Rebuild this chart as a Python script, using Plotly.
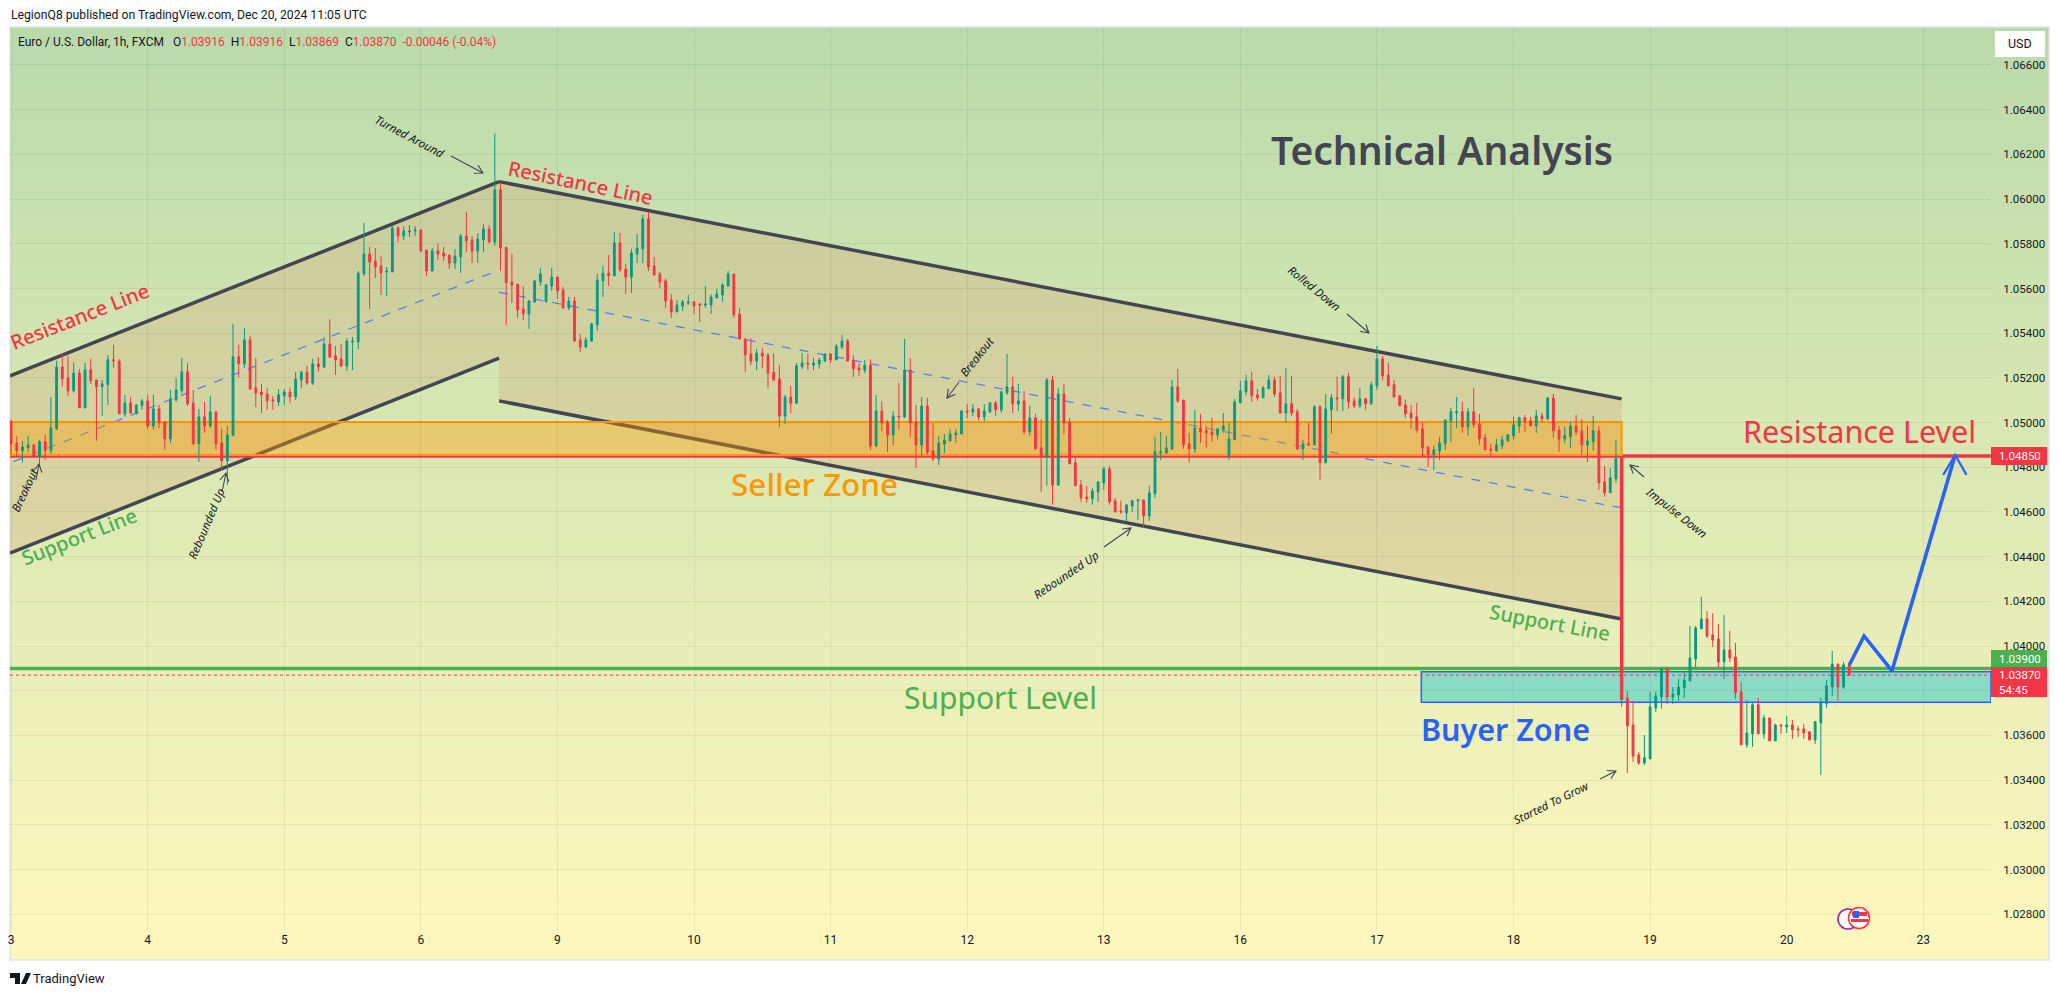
import plotly.graph_objects as go

# ---- hourly candles, prices in 1e-5 units (105370 = 1.05370) ----
candle_dir = ("RRGGRGRGGR" "RGRGRRGGRR" "GRGGRGRRGG" "GRRGRGRRGG" "RGRRRRRGGR"
              "GGRGRGRRRG" "GGGRRRGGRG" "GGRRGRRRGG" "RRGGRGRRRR" "RGGGGGRRGR"
              "RGGGGRGRRG" "GGRRRRRGGG" "RRGGGGGRRR" "RGRRRRGRGG" "RGGGRGGRRR"
              "GRGRRGRGRR" "GRRGGGGGRG" "RGGRGGRGRG" "RRGRGRRRRR" "GGGRRRGGGR"
              "GGGGGRRRGR" "RRGGGGGGRR" "GGRRGRRGRG" "RGGRGRRGRG" "GRRRRRRRRR"
              "GGGGGRGRRR" "RGGGGGRRGR" "GRRGGRRGGR" "RGGRRRRGGG" "GRGGGGGGRR"
              "RGRRRGGRGR" "GRGRRRRGGG" "GRGR")

candle_high = [
105012,104938,104918,104941,104905,104923,104945,105115,105276,105307,
105298,105269,105240,105267,105285,105191,105191,105303,105348,105285,
105124,105115,105084,105106,105124,105124,105079,105005,105146,105200,
105289,105267,105146,105061,105093,105120,105048,104972,104985,105442,
105348,105423,105387,105289,105173,105155,105119,105150,105150,105155,
105226,105231,105253,105285,105293,105383,105463,105343,105352,105378,
105383,105678,105893,105786,105781,105745,105696,105884,105879,105879,
105884,105879,105862,105772,105781,105803,105786,105750,105777,105844,
105942,105835,105848,105888,105884,106294,106070,105784,105754,105620,
105611,105549,105638,105692,105620,105692,105656,105607,105562,105562,
105397,105383,105446,105665,105701,105750,105853,105848,105710,105777,
105844,105929,105942,105741,105674,105643,105575,105549,105549,105571,
105544,105535,105611,105575,105598,105625,105678,105665,105513,105378,
105378,105329,105333,105311,105311,105257,105123,105164,105266,105311,
105307,105289,105289,105311,105311,105351,105392,105374,105302,105266,
105280,105284,105123,105096,105011,105052,105177,105374,105289,105079,
105114,105110,104998,104940,104949,104971,104971,105056,105083,105083,
105065,105083,105092,105097,105142,105307,105204,105173,105142,105075,
105039,105016,105200,105209,105155,105173,105021,104851,104744,104717,
104708,104735,104802,104806,104663,104650,104632,104654,104659,104654,
104717,104936,104958,104940,105191,105240,105101,104954,105057,105039,
104985,105021,104976,105043,104999,105106,105187,105213,105227,105151,
105164,105213,105205,105209,105245,105209,105061,104923,104999,105079,
105079,105128,105128,105205,105213,105222,105111,105155,105111,105182,
105343,105298,105267,105191,105120,105102,105079,105088,105003,104891,
104896,104936,105012,105066,105115,105093,105066,105155,105039,104949,
104905,104927,104941,104949,105026,105026,105034,105026,105057,105043,
105115,105128,104985,104981,105003,105034,105017,104985,105030,104985,
104806,104797,104923,104810,103799,103755,103526,103602,103795,103795,
103902,103907,103817,103853,103880,104090,104090,104220,104157,104148,
104099,104139,104068,104014,103839,103759,103750,103768,103692,103678,
103652,103652,103687,103670,103643,103652,103620,103665,103768,103848,
103978,103920,103929,103916]

body_top = [
105005,104909,104891,104900,104900,104914,104914,104976,105249,105249,
105200,105222,105222,105236,105236,105191,105173,105281,105281,105276,
105088,105088,105079,105097,105097,105061,105061,105003,105106,105146,
105227,105227,105088,105026,105026,105048,105048,104909,104945,105294,
105294,105370,105370,105155,105137,105128,105101,105124,105137,105137,
105195,105226,105226,105262,105262,105352,105352,105298,105285,105365,
105365,105669,105754,105754,105723,105701,105678,105870,105870,105857,
105857,105862,105862,105772,105768,105768,105759,105750,105745,105835,
105835,105817,105821,105866,105866,106041,106041,105784,105629,105620,
105508,105544,105634,105665,105616,105651,105651,105593,105544,105544,
105370,105370,105441,105638,105669,105669,105804,105804,105687,105759,
105781,105911,105911,105701,105665,105634,105549,105526,105540,105540,
105540,105531,105531,105562,105575,105616,105665,105665,105486,105374,
105307,105311,105311,105302,105226,105195,105114,105114,105253,105266,
105266,105266,105280,105307,105307,105342,105365,105365,105280,105244,
105257,105257,105052,105052,105002,105029,105029,105235,105235,105002,
105074,105074,104873,104909,104922,104949,104953,105052,105052,105061,
105061,105052,105088,105088,105137,105160,105160,105097,105097,105021,
105021,104887,105191,105191,105128,105128,105003,104820,104721,104667,
104694,104735,104793,104793,104650,104605,104632,104650,104654,104654,
104685,104869,104869,104887,105160,105160,105101,104905,104976,104976,
104963,104958,104972,104985,104927,105093,105142,105187,105187,105124,
105155,105191,105191,105133,105084,105084,105048,104905,104905,105070,
105070,105061,105111,105111,105205,105205,105097,105106,105106,105169,
105285,105285,105213,105169,105120,105079,105043,105026,104972,104891,
104878,104909,105012,105048,105048,105048,105048,105048,104994,104932,
104882,104900,104923,104945,104990,105021,105021,105008,105030,105030,
105110,105110,104967,104941,104985,104985,104963,104918,104963,104963,
104735,104753,104838,104790,103768,103647,103513,103500,103728,103777,
103898,103898,103786,103817,103848,103947,104081,104121,104121,104050,
104032,103983,103983,103951,103795,103611,103737,103737,103678,103678,
103647,103647,103647,103647,103629,103629,103616,103661,103750,103822,
103920,103920,103916,103916]

body_bottom = [
104905,104874,104874,104888,104847,104847,104874,104874,104972,105196,
105142,105142,105066,105066,105187,105160,105160,105169,105276,105039,
105039,105043,105043,105075,104985,104985,104999,104927,104927,105102,
105142,105084,104905,104905,104985,104985,104905,104829,104829,104941,
105263,105262,105150,105132,105124,105097,105097,105092,105119,105115,
105115,105191,105177,105177,105249,105249,105293,105280,105253,105253,
105361,105361,105665,105718,105696,105669,105674,105674,105835,105835,
105853,105857,105768,105678,105678,105754,105745,105714,105714,105741,
105812,105768,105768,105817,105808,105808,105781,105625,105616,105504,
105486,105486,105540,105629,105540,105611,105589,105513,105513,105365,
105338,105338,105365,105437,105634,105656,105656,105683,105651,105651,
105754,105777,105696,105660,105629,105544,105495,105495,105522,105535,
105522,105526,105526,105526,105558,105571,105611,105482,105374,105302,
105275,105275,105298,105222,105190,105029,105029,105087,105087,105249,
105262,105257,105262,105275,105280,105280,105338,105275,105240,105235,
105235,104895,104895,104998,104944,104944,105025,105025,104998,104900,
104900,104868,104837,104837,104904,104918,104944,104949,105047,105047,
105025,105025,105048,105057,105057,105133,105083,105083,104958,104958,
104882,104846,104846,104721,104721,104998,104815,104717,104663,104659,
104659,104690,104730,104645,104600,104600,104596,104627,104650,104582,
104582,104681,104864,104864,104882,105097,104900,104882,104882,104958,
104954,104945,104945,104967,104851,104923,105088,105137,105120,105111,
105111,105151,105128,105043,105043,105043,104882,104882,104900,104900,
104820,104820,105057,105106,105106,105093,105075,105075,105084,105084,
105164,105209,105164,105115,105075,105039,105021,104967,104887,104856,
104856,104873,104905,105008,105043,104981,104981,104990,104927,104878,
104878,104873,104896,104918,104941,104985,105003,104985,104985,105017,
105017,104963,104927,104927,104936,104958,104900,104900,104914,104730,
104686,104686,104748,103763,103643,103508,103477,103477,103495,103723,
103772,103772,103772,103781,103813,103844,103942,104077,104045,104027,
103929,103929,103947,103790,103558,103558,103607,103607,103607,103576,
103576,103643,103638,103625,103625,103611,103580,103580,103656,103743,
103817,103817,103817,103870]

candle_low = [
104856,104845,104821,104866,104845,104803,104833,104860,104967,105160,
105120,105134,105066,105063,105173,104918,105030,105079,105245,105039,
105026,105039,105035,105057,104972,104969,104976,104878,104909,105093,
105131,105075,104900,104824,104954,104976,104878,104789,104721,104940,
105203,105244,105146,105070,105043,105056,105056,105074,105079,105088,
105101,105155,105168,105168,105226,105244,105289,105213,105249,105231,
105235,105329,105656,105508,105647,105571,105566,105674,105808,105817,
105830,105835,105763,105656,105678,105727,105723,105687,105687,105669,
105763,105714,105714,105763,105803,105790,105680,105437,105535,105468,
105459,105419,105535,105611,105540,105589,105553,105508,105504,105361,
105316,105334,105361,105410,105562,105611,105656,105674,105575,105580,
105714,105714,105678,105660,105602,105513,105468,105495,105499,105526,
105486,105450,105513,105486,105558,105540,105607,105468,105370,105226,
105257,105235,105244,105155,105190,104980,104994,105043,105083,105240,
105235,105235,105240,105271,105266,105280,105329,105275,105204,105208,
105222,104877,104891,104962,104868,104900,104971,105020,104935,104797,
104850,104855,104828,104810,104864,104918,104909,104949,105020,105029,
105011,105007,105043,105030,105043,105124,105043,105052,104949,104940,
104882,104690,104717,104632,104717,104949,104815,104717,104645,104641,
104632,104645,104699,104632,104600,104591,104560,104600,104565,104529,
104560,104663,104833,104860,104878,105088,104882,104820,104864,104909,
104887,104914,104923,104954,104833,104923,105088,105120,105093,105097,
105111,105151,105115,105039,104999,105030,104878,104833,104896,104900,
104744,104820,104950,105052,105052,105061,105066,105066,105057,105079,
105146,105187,105164,105111,105075,105021,104972,104954,104847,104802,
104788,104833,104878,104914,104976,104954,104941,104976,104900,104878,
104851,104869,104882,104914,104923,104954,104958,104985,104954,104999,
105012,104932,104869,104909,104887,104945,104856,104824,104873,104699,
104668,104686,104730,103728,103432,103482,103468,103468,103495,103705,
103719,103741,103741,103755,103768,103844,103902,104077,104036,103996,
103902,103853,103929,103763,103558,103544,103549,103607,103585,103576,
103576,103607,103611,103585,103593,103585,103580,103562,103424,103723,
103777,103755,103808,103869]

n_bars = len(candle_high)
if not (n_bars == len(body_top) == len(body_bottom) == len(candle_low) == len(candle_dir)):
    raise SystemExit(f"len {n_bars} {len(body_top)} {len(body_bottom)} {len(candle_low)} {len(candle_dir)}")

# ---- axes ----
day_tick_pos = [0, 24, 48, 72, 96, 120, 144, 168, 192, 216, 240, 264, 288, 312, 336]
day_tick_text = ["3", "4", "5", "6", "9", "10", "11", "12", "13", "16", "17", "18", "19", "20", "23"]
price_ticks = [1.028, 1.030, 1.032, 1.034, 1.036, 1.038, 1.040, 1.042, 1.044, 1.046,
               1.048, 1.050, 1.052, 1.054, 1.056, 1.058, 1.060, 1.062, 1.064, 1.066]
# the 1.03800 label sits behind the live-price tag in the reference, so it is left blank
price_tick_text = ["1.02800", "1.03000", "1.03200", "1.03400", "1.03600", "", "1.04000", "1.04200",
                   "1.04400", "1.04600", "1.04800", "1.05000", "1.05200", "1.05400", "1.05600",
                   "1.05800", "1.06000", "1.06200", "1.06400", "1.06600"]
X_RANGE = [-0.19, 347.9]
Y_RANGE = [1.02725, 1.0677]

# ---- drawn levels and channels (bar index, price) ----
rise_x = [-0.19, 85.75]
rise_upper = [1.05209, 1.06078]
rise_lower = [1.04416, 1.05288]
rise_mid_x = [0.4, 85.75]
rise_mid = [1.04825, 1.05683]
fall_x = [85.75, 283]
fall_upper = [1.06078, 1.05106]
fall_lower = [1.05097, 1.04121]
fall_mid = [1.05583, 1.04618]
seller_zone = [1.04855, 1.05003]
buyer_zone = [1.03749, 1.03885]
buyer_zone_start = 247.8
resistance_level = 1.0485
support_level = 1.0390
last_price = 1.0387
impulse_x = 283
impulse_bottom = 1.0376
forecast_x = [323, 325.6, 330.5, 341.6]
forecast_y = [1.03915, 1.04045, 1.03889, 1.04855]
forecast_head_x = [339.5, 341.6, 343.6]
forecast_head_y = [1.04766, 1.04855, 1.04766]

# ---- colours ----
UP = "#089981"
DOWN = "#F23645"
GREEN = "#4CAF50"
ORANGE = "#FF9800"
BLUE = "#2962FF"
INK = "#434651"
DARK = "#131722"
TOP_RGB = (187, 218, 172)
BOTTOM_RGB = (255, 248, 190)

L, R, T, B = 10, 1991, 27, 931
W, H = 2059, 995
PANEL_R, PANEL_B = 2049, 960


def px(x):
    return (x - L) / (R - L)


def py(y):
    return (B - y) / (B - T)


open_ = [(b if d == "G" else t) / 1e5 for d, t, b in zip(candle_dir, body_top, body_bottom)]
close = [(t if d == "G" else b) / 1e5 for d, t, b in zip(candle_dir, body_top, body_bottom)]
high = [max(h, t) / 1e5 for h, t in zip(candle_high, body_top)]
low = [min(l, b) / 1e5 for l, b in zip(candle_low, body_bottom)]

fig = go.Figure()
fig.add_trace(go.Candlestick(
    x=list(range(n_bars)), open=open_, high=high, low=low, close=close,
    increasing=dict(line=dict(color=UP, width=1), fillcolor=UP),
    decreasing=dict(line=dict(color=DOWN, width=1), fillcolor=DOWN),
    whiskerwidth=0, showlegend=False, hoverinfo="skip"))
fig.add_trace(go.Scatter(x=forecast_x, y=forecast_y, mode="lines",
                         line=dict(color=BLUE, width=3.6), showlegend=False, hoverinfo="skip"))
fig.add_trace(go.Scatter(x=forecast_head_x, y=forecast_head_y, mode="lines",
                         line=dict(color=BLUE, width=2.2), showlegend=False, hoverinfo="skip"))

shapes = []
# background gradient (painted top-down so no seams appear)
STEPS = 110
for k in range(STEPS):
    f = k / (STEPS - 1)
    col = tuple(round(a + (b - a) * f) for a, b in zip(TOP_RGB, BOTTOM_RGB))
    y0 = T + (PANEL_B - T) * k / STEPS
    shapes.append(dict(type="rect", xref="paper", yref="paper", layer="below",
                       x0=px(L), x1=px(PANEL_R), y0=py(y0), y1=py(PANEL_B),
                       fillcolor=f"rgb{col}", line=dict(width=0)))
shapes.append(dict(type="rect", xref="paper", yref="paper", layer="below",
                   x0=px(L), x1=px(PANEL_R), y0=py(T), y1=py(PANEL_B),
                   fillcolor="rgba(0,0,0,0)", line=dict(color="#E0E3EB", width=1.5)))


def segment(x0, y0, x1, y1, color, width, dash="solid"):
    return dict(type="line", xref="x", yref="y", layer="below", x0=x0, y0=y0, x1=x1, y1=y1,
                line=dict(color=color, width=width, dash=dash))


def band(xs, up, lo):
    path = f"M{xs[0]},{up[0]} L{xs[1]},{up[1]} L{xs[1]},{lo[1]} L{xs[0]},{lo[0]} Z"
    return dict(type="path", xref="x", yref="y", layer="below", path=path,
                fillcolor="rgba(206,151,109,0.25)", line=dict(width=0))


shapes += [band(rise_x, rise_upper, rise_lower), band(fall_x, fall_upper, fall_lower)]
shapes += [
    segment(rise_x[0], rise_upper[0], rise_x[1], rise_upper[1], INK, 3.5),
    segment(rise_x[0], rise_lower[0], rise_x[1], rise_lower[1], INK, 3.5),
    segment(fall_x[0], fall_upper[0], fall_x[1], fall_upper[1], INK, 3.5),
    segment(fall_x[0], fall_lower[0], fall_x[1], fall_lower[1], INK, 3.5),
    segment(rise_mid_x[0], rise_mid[0], rise_mid_x[1], rise_mid[1], "#5B7FF0", 1.3, "dash"),
    segment(fall_x[0], fall_mid[0], fall_x[1], fall_mid[1], "#5B7FF0", 1.3, "dash"),
    segment(X_RANGE[0], resistance_level, X_RANGE[1], resistance_level, DOWN, 3.5),
    dict(type="rect", xref="x", yref="y", layer="below", x0=X_RANGE[0], x1=impulse_x,
         y0=seller_zone[0], y1=seller_zone[1], fillcolor="rgba(255,152,0,0.38)",
         line=dict(color=ORANGE, width=2)),
    segment(impulse_x, resistance_level, impulse_x, impulse_bottom, DOWN, 3.5),
    dict(type="rect", xref="x", yref="y", layer="below", x0=buyer_zone_start, x1=X_RANGE[1],
         y0=buyer_zone[0], y1=buyer_zone[1], fillcolor="rgba(30,197,210,0.47)",
         line=dict(color=BLUE, width=1.5)),
    segment(X_RANGE[0], support_level, X_RANGE[1], support_level, GREEN, 3.5),
    segment(X_RANGE[0], last_price, X_RANGE[1], last_price, DOWN, 1, "dot"),
]


def arrow(x0, y0, x1, y1):
    # thin open-headed arrow, drawn in page pixels
    dx, dy = x1 - x0, y1 - y0
    n = (dx * dx + dy * dy) ** 0.5
    ux, uy = dx / n, dy / n
    s, w = 8, 4.5
    a = (x1 - ux * s - uy * w, y1 - uy * s + ux * w)
    b = (x1 - ux * s + uy * w, y1 - uy * s - ux * w)
    p = (f"M{px(x0)},{py(y0)} L{px(x1)},{py(y1)} M{px(a[0])},{py(a[1])} "
         f"L{px(x1)},{py(y1)} L{px(b[0])},{py(b[1])}")
    return dict(type="path", xref="paper", yref="paper", layer="above", path=p,
                line=dict(color=INK, width=1.1))


shapes += [arrow(451, 156, 483, 173), arrow(36, 480, 39, 464), arrow(222, 492, 226, 473),
           arrow(959, 382, 947, 398), arrow(1104, 547, 1131, 528), arrow(1347, 314, 1369, 333),
           arrow(1644, 477, 1630, 465), arrow(1600, 779, 1616, 771)]


def box(x0, y0, x1, y1, color):
    return dict(type="rect", xref="paper", yref="paper", layer="above",
                x0=px(x0), x1=px(x1), y0=py(y0), y1=py(y1), fillcolor=color, line=dict(width=0))


def disc(cx, cy, r, fill, edge, lw=1.6):
    return dict(type="circle", xref="paper", yref="paper", layer="above",
                x0=px(cx - r), x1=px(cx + r), y0=py(cy - r), y1=py(cy + r),
                fillcolor=fill, line=dict(color=edge, width=lw))


shapes += [
    box(1995, 31, 2045, 57, "#FFFFFF"),
    box(1991, 447, 2047, 465, DOWN),
    box(1991, 650, 2047, 667, GREEN),
    box(1991, 667, 2047, 697, DOWN),
    disc(1848, 919, 10, "#FFFFFF", "#9C27B0"),
    disc(1859, 918, 10.5, "#FFFFFF", DOWN),
    box(1852, 912, 1867, 916, DOWN),
    box(1851, 919, 1868, 922, DOWN),
    box(1853, 911, 1859, 918, "#2962FF"),
    # TradingView mark
    dict(type="path", xref="paper", yref="paper", layer="above",
         path=(f"M{px(10)},{py(973)} L{px(20)},{py(973)} L{px(20)},{py(984)} L{px(15)},{py(984)} "
               f"L{px(15)},{py(978)} L{px(10)},{py(978)} Z "
               f"M{px(26)},{py(973)} L{px(31)},{py(973)} L{px(26)},{py(984)} L{px(21)},{py(984)} Z"),
         fillcolor=DARK, line=dict(width=0)),
]

annotations = []


def note(text, x, y, size, color, angle=0, family="Noto Sans", anchor="center", **font):
    annotations.append(dict(text=text, xref="paper", yref="paper", x=px(x), y=py(y),
                            xanchor=anchor, yanchor="middle", showarrow=False, textangle=angle,
                            font=dict(family=family, size=size, color=color, **font)))


sp = "\u00a0"
note("LegionQ8 published on TradingView.com, Dec 20, 2024 11:05 UTC", 9, 15, 12.2, DARK,
     family="Roboto", anchor="left")
red = lambda s: f'<span style="color:{DOWN}">{s}</span>'
note(f"Euro / U.S. Dollar, 1h, FXCM{sp}{sp}{sp}O{red('1.03916')}{sp}{sp}H{red('1.03916')}{sp}{sp}"
     f"L{red('1.03869')}{sp}{sp}C{red('1.03870')}{sp}{sp}{red('-0.00046 (-0.04%)')}",
     16, 42, 12, DARK, family="Roboto", anchor="left")
note("USD", 2020, 44, 12.5, DARK, family="Roboto")
note("1.04850", 2020, 456, 11.5, "#FFFFFF", family="Roboto")
note("1.03900", 2020, 658.5, 11.5, "#FFFFFF", family="Roboto")
note("1.03870", 2020, 675, 11.5, "#FFFFFF", family="Roboto")
note("54:45", 2013, 689.5, 11.5, "#FFFFFF", family="Roboto")
note("TradingView", 69, 978, 13, DARK, family="Roboto")

note("Technical Analysis", 1442, 150, 39, INK, weight=600)
note("Resistance Line", 79, 316, 20, DOWN, angle=-21.5, weight=500)
note("Resistance Line", 580, 182, 20, DOWN, angle=11.8, weight=500)
note("Support Line", 79, 536, 20, GREEN, angle=-21.5, weight=500)
note("Support Line", 1550, 622, 20, GREEN, angle=10.7, weight=500)
note("Seller Zone", 814, 483, 31.5, ORANGE, weight=500)
note("Support Level", 1000, 697, 30, GREEN)
note("Buyer Zone", 1505, 729, 30.5, BLUE, weight=600)
note("Resistance Level", 1859, 431, 30.5, DOWN)
note("Turned Around", 410, 136, 11.5, DARK, angle=28, style="italic")
note("Breakout", 24, 490, 11.5, DARK, angle=-65, style="italic")
note("Rebounded Up", 206, 523, 11.5, DARK, angle=-67, style="italic")
note("Breakout", 977, 357, 11.5, DARK, angle=-52, style="italic")
note("Rebounded Up", 1066, 574, 11.5, DARK, angle=-34, style="italic")
note("Rolled Down", 1315, 288, 11.5, DARK, angle=39, style="italic")
note("Impulse Down", 1677, 512, 11.5, DARK, angle=38, style="italic")
note("Started To Grow", 1551, 802, 11.5, DARK, angle=-26, style="italic")

GRID = "rgba(40,60,40,0.08)"
fig.update_layout(
    width=W, height=H, autosize=False, template=None,
    margin=dict(l=L, r=W - R, t=T, b=H - B, pad=0),
    paper_bgcolor="#FFFFFF", plot_bgcolor="rgba(0,0,0,0)",
    showlegend=False, shapes=shapes, annotations=annotations, hovermode=False,
    boxgap=0.55,
    xaxis=dict(range=X_RANGE, tickmode="array", tickvals=day_tick_pos, ticktext=day_tick_text,
               showgrid=True, gridcolor=GRID, gridwidth=1, zeroline=False, showline=False,
               ticks="", rangeslider=dict(visible=False),
               tickfont=dict(family="Roboto", size=12, color=DARK)),
    yaxis=dict(range=Y_RANGE, side="right", tickmode="array", tickvals=price_ticks,
               ticktext=price_tick_text,
               showgrid=True, gridcolor=GRID, gridwidth=1, zeroline=False, showline=False,
               ticks="outside", ticklen=9, tickcolor="rgba(0,0,0,0)",
               tickfont=dict(family="Roboto", size=11.5, color=DARK)),
)

fig.write_html("out.html", config=dict(displayModeBar=False),
               post_script="document.body.style.margin='0';document.body.style.overflow='hidden';")
